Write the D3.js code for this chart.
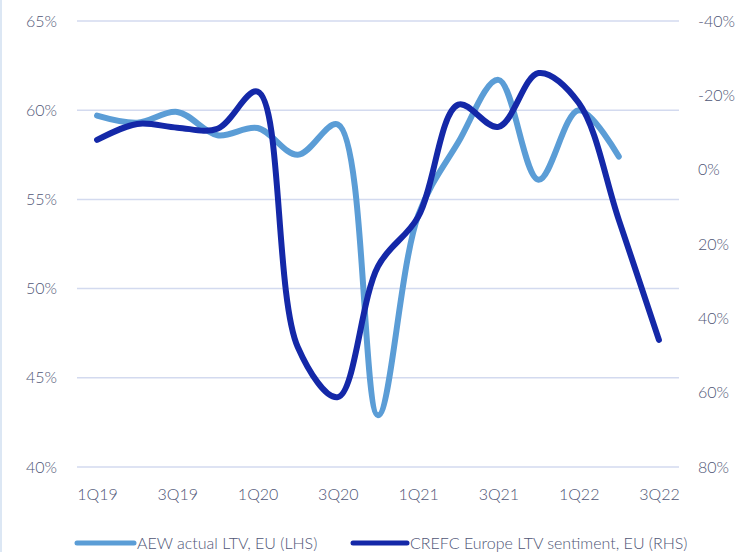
<!DOCTYPE html>
<html>
<head>
<meta charset="utf-8">
<script src="https://cdn.jsdelivr.net/npm/d3@7"></script>
<style>
  html, body { margin: 0; padding: 0; background: #ffffff; }
  svg { display: block; }
  text { font-family: Lato, "Open Sans", sans-serif; font-weight: 300; fill: #4f5676; }
</style>
</head>
<body>
<script>
// Quarterly periods on the x axis
const quarters = ["1Q19","2Q19","3Q19","4Q19","1Q20","2Q20","3Q20","4Q20",
                  "1Q21","2Q21","3Q21","4Q21","1Q22","2Q22","3Q22"];
const xTickLabels = ["1Q19","3Q19","1Q20","3Q20","1Q21","3Q21","1Q22","3Q22"];

// AEW actual LTV, EU (left axis, %)
const aewLtv = [59.7, 59.3, 59.9, 58.6, 59.0, 57.5, 59.2, 42.9, 54.1, 58.2, 61.7, 56.1, 60.0, 57.4];

// CREFC Europe LTV sentiment, EU (right axis, %, inverted)
const crefcSentiment = [-8.0, -12.3, -11.3, -11.0, -21.0, 47.7, 61.2, 26.0, 12.7, -17.5, -11.5, -26.0, -18.0, 13.5, 45.8];

const leftTicks = [40, 45, 50, 55, 60, 65];
const rightTicks = [-40, -20, 0, 20, 40, 60, 80];

const seriesNames = ["AEW actual LTV, EU (LHS)", "CREFC Europe LTV sentiment, EU (RHS)"];
const seriesColors = ["#5b9dd6", "#1428a8"];

const W = 745, H = 552;
const plot = { left: 77, right: 679, top: 21, bottom: 467 };
const fontSize = 16;

const svg = d3.select("body").append("svg")
  .attr("width", W).attr("height", H);

// thin frame strip on the left edge
svg.append("rect").attr("x", 0).attr("y", 0).attr("width", 2).attr("height", H)
  .attr("fill", "#dce7f4");

const x = d3.scalePoint().domain(quarters).range([plot.left, plot.right]).padding(0.5);
const yL = d3.scaleLinear().domain([40, 65]).range([plot.bottom, plot.top]);
const yR = d3.scaleLinear().domain([80, -40]).range([plot.bottom, plot.top]);

// gridlines
svg.append("g").selectAll("line").data(leftTicks).join("line")
  .attr("x1", plot.left).attr("x2", plot.right)
  .attr("y1", d => yL(d)).attr("y2", d => yL(d))
  .attr("stroke", "#d3daef").attr("stroke-width", 1.5);

function styleAxis(g) {
  g.select(".domain").remove();
  g.selectAll("text")
    .attr("font-size", fontSize)
    .style("font-family", "Lato, sans-serif")
    .style("font-weight", 300)
    .attr("fill", "#4f5676");
}

// left axis labels
svg.append("g").attr("transform", `translate(${plot.left},0)`)
  .call(d3.axisLeft(yL).tickValues(leftTicks).tickFormat(d => d + "%").tickSize(0).tickPadding(20))
  .call(styleAxis);

// right axis labels
svg.append("g").attr("transform", `translate(${plot.right},0)`)
  .call(d3.axisRight(yR).tickValues(rightTicks).tickFormat(d => d + "%").tickSize(0).tickPadding(19))
  .call(styleAxis);

// bottom axis labels
svg.append("g").attr("transform", `translate(0,${plot.bottom})`)
  .call(d3.axisBottom(x).tickValues(xTickLabels).tickSize(0).tickPadding(22))
  .call(styleAxis);

const curve = d3.curveCatmullRom.alpha(0.5);

const lineL = d3.line().x((d, i) => x(quarters[i])).y(d => yL(d)).curve(curve);
const lineR = d3.line().x((d, i) => x(quarters[i])).y(d => yR(d)).curve(curve);

svg.append("path").datum(aewLtv).attr("d", lineL)
  .attr("fill", "none").attr("stroke", seriesColors[0]).attr("stroke-width", 6)
  .attr("stroke-linecap", "round").attr("stroke-linejoin", "round");

svg.append("path").datum(crefcSentiment).attr("d", lineR)
  .attr("fill", "none").attr("stroke", seriesColors[1]).attr("stroke-width", 6)
  .attr("stroke-linecap", "round").attr("stroke-linejoin", "round");

// legend
const legendY = 543;
const legendItems = [
  { name: seriesNames[0], color: seriesColors[0], x0: 77, x1: 134 },
  { name: seriesNames[1], color: seriesColors[1], x0: 353, x1: 407 }
];
const lg = svg.append("g");
legendItems.forEach(it => {
  lg.append("line").attr("x1", it.x0).attr("x2", it.x1)
    .attr("y1", legendY).attr("y2", legendY)
    .attr("stroke", it.color).attr("stroke-width", 5).attr("stroke-linecap", "round");
  lg.append("text").attr("x", it.x1 + 3).attr("y", legendY).attr("dy", "0.35em")
    .attr("font-size", fontSize).style("font-weight", 300).text(it.name);
});
</script>
</body>
</html>
